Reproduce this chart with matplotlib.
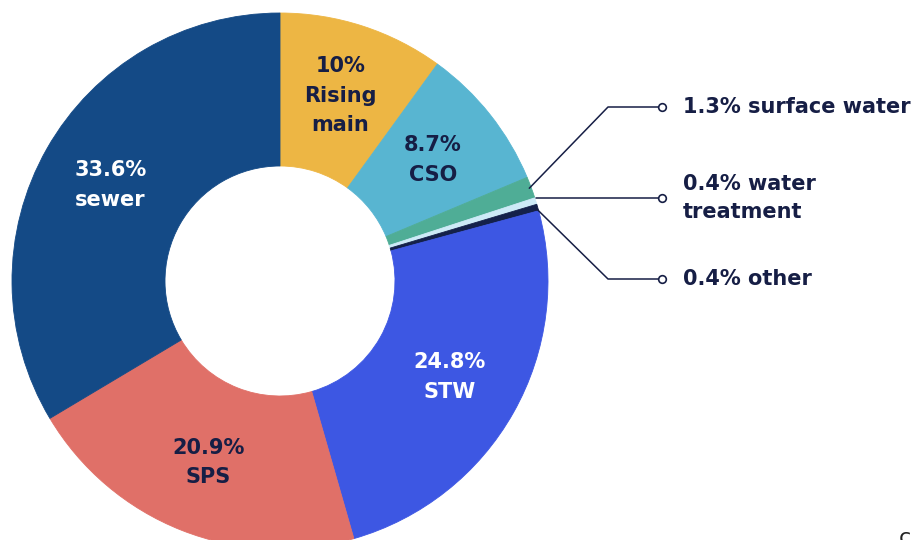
import numpy as np
import matplotlib.pyplot as plt

# slice data, clockwise from 12 o'clock
names = ['Rising\nmain', 'CSO', 'surface water', 'water\ntreatment', 'other',
         'STW', 'SPS', 'sewer']
shares = [10, 8.7, 1.3, 0.4, 0.4, 24.8, 20.9, 33.6]
colours = ['#EDB644', '#58B5D1', '#4FAD96', '#CDEAF7', '#14214A',
           '#3D57E3', '#E07068', '#144A86']
inside = [True, True, False, False, False, True, True, True]
white_text = ['sewer', 'STW']

navy = '#161E45'
plt.rcParams['font.family'] = ['DejaVu Sans']

fig = plt.figure(figsize=(9.24, 5.4), dpi=100)
ax = fig.add_axes([0, 0, 1, 1])

cx, cy = 280, 259      # centre in pixel-like data units
R, r_in = 268, 115

wedges, _ = ax.pie(shares, colors=colours, startangle=90, counterclock=False,
                   radius=R, center=(cx, cy),
                   wedgeprops=dict(width=R - r_in, linewidth=0))
for w in wedges:
    # thin edge in its own colour hides seams between slices
    w.set_edgecolor(w.get_facecolor())
    w.set_linewidth(0.6)
ax.set_xlim(0, 924)
ax.set_ylim(0, 540)
ax.set_aspect('equal')
ax.axis('off')

def fmt(v):
    return ('%g' % v) + '%'

outside_rows = {'surface water': 433, 'water\ntreatment': 342, 'other': 261}
for w, nm, v, ins in zip(wedges, names, shares, inside):
    mid = np.deg2rad((w.theta1 + w.theta2) / 2)
    if ins:
        tx = cx + 195 * np.cos(mid)
        ty = cy + 195 * np.sin(mid)
        col = 'white' if nm in white_text else navy
        ax.text(tx, ty, fmt(v) + '\n' + nm, ha='center', va='center',
                fontsize=15, fontweight='bold', color=col, linespacing=1.6)
    else:
        sx = cx + (R - 2) * np.cos(mid)
        sy = cy + (R - 2) * np.sin(mid)
        row = outside_rows[nm]
        if abs(row - sy) > 20:
            xs = [sx, 608, 662]
            ys = [sy, row, row]
        else:
            xs = [sx + 2, 662]
            ys = [row, row]
        ax.plot(xs, ys, color=navy, lw=1.1, solid_capstyle='round')
        ax.plot(662, row, 'o', ms=5.5, mfc='white', mec=navy, mew=1.2)
        ax.text(683, row, fmt(v) + ' ' + nm, ha='left', va='center',
                fontsize=15, fontweight='bold', color=navy, linespacing=1.5)

# cut-off page mark in the corner
ax.text(905, -8, 'c', ha='center', va='bottom', fontsize=16, color='#222222',
        clip_on=False)

fig.savefig('out.png', dpi=100)
